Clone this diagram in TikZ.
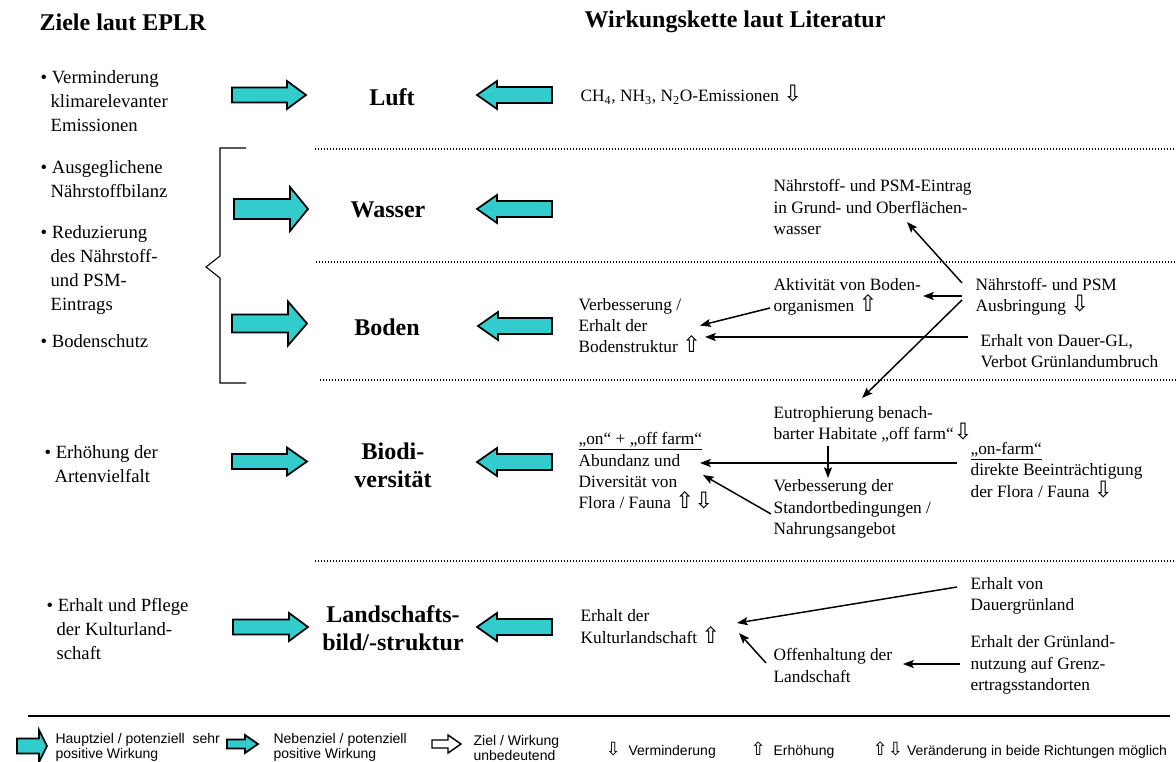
\documentclass[tikz,border=0pt]{standalone}
\usepackage{fontspec}
\setmainfont{Liberation Serif}
\newfontfamily\legendfont{Liberation Sans}
\newfontfamily\arrowfont{DejaVu Sans}
\usetikzlibrary{arrows.meta, calc, positioning}
\definecolor{eplrteal}{HTML}{33CCCC}
\newcommand{\arrdown}{\scalebox{1.3}{\arrowfont ⇩}}
\newcommand{\arrup}{\scalebox{1.3}{\arrowfont ⇧}}
\newcommand{\goalind}{\hspace*{7.5pt}}
% tail, base of head, tip, y, half shaft, half head, style
\newcommand{\fatarrow}[7]{%
  \filldraw[#7] (#1,#4-#5) -- (#2,#4-#5) -- (#2,#4-#6) -- (#3,#4)
    -- (#2,#4+#6) -- (#2,#4+#5) -- (#1,#4+#5) -- cycle;}
\tikzset{
>={Stealth[length=8pt,width=6pt,inset=1.5pt]}, % filled arrow heads
x=0.75pt, y=-0.75pt, % pixel grid, y pointing down
every node/.style={inner sep=1pt},
title/.style={font=\bfseries\fontsize{18}{22}\selectfont, anchor=west},
goal/.style={font=\fontsize{14}{18}\selectfont, align=left, anchor=west},
medium/.style={font=\bfseries\fontsize{18}{21}\selectfont, align=center},
effect/.style={font=\fontsize{13}{16}\selectfont, align=left, anchor=west},
legend/.style={font=\legendfont\fontsize{10.5}{11.25}\selectfont, align=left, anchor=west},
conn/.style={->, line width=1.1pt},
fatmain/.style={fill=eplrteal, draw=black, line width=1.3pt},
fatnone/.style={fill=white, draw=black, line width=1.1pt},
sepline/.style={line width=1pt, dash pattern=on 1pt off 1.25pt},
}

\begin{document}
\begin{tikzpicture}
  \useasboundingbox (0,0) rectangle (1176,762);

  % headings
  \node[title] (tgoals) at (38,22) {Ziele laut EPLR};
  \node[title] (tchain) at (583,22) {Wirkungskette laut Literatur};

  % goals
  \node[goal] (gluft) at (39,101) {\textbullet\ Verminderung\\\goalind klimarelevanter\\\goalind Emissionen};
  \node[goal] (gbilanz) at (39,179.5) {\textbullet\ Ausgeglichene\\\goalind Nährstoffbilanz};
  \node[goal] (geintrag) at (39,270.5) {\textbullet\ Reduzierung\\\goalind des Nährstoff-\\\goalind und PSM-\\\goalind Eintrags};
  \node[goal] (gboden) at (39,341) {\textbullet\ Bodenschutz};
  \node[goal] (garten) at (43,464) {\textbullet\ Erhöhung der\\\goalind Artenvielfalt};
  \node[goal] (gkultur) at (45,629) {\textbullet\ Erhalt und Pflege\\\goalind der Kulturland-\\\goalind schaft};

  \draw[line width=0.8pt] (246,148) -- (220,148) -- (220,256) -- (206,267)
    -- (220,278) -- (220,383) -- (246,383);

  % media
  \node[medium] (mluft) at (392,97) {Luft};
  \node[medium] (mwasser) at (388,210) {Wasser};
  \node[medium] (mboden) at (387,327) {Boden};
  \node[medium] (mbio) at (393,465) {Biodi-\\versität};
  \node[medium] (mland) at (393,628) {Landschafts-\\bild/-struktur};

  \fatarrow{232}{287}{306}{95}{7.5}{14}{fatmain}
  \fatarrow{234}{290}{308}{209}{10}{22}{fatmain}
  \fatarrow{232}{288}{307}{323.5}{9}{22}{fatmain}
  \fatarrow{232}{287}{307}{461.5}{7.5}{14}{fatmain}
  \fatarrow{233}{289}{308}{627}{7.5}{14}{fatmain}

  \fatarrow{552}{497}{477}{95}{8}{14}{fatmain}
  \fatarrow{552}{497}{477}{209}{8}{14}{fatmain}
  \fatarrow{552}{498}{478}{326}{8}{14}{fatmain}
  \fatarrow{552}{497}{477}{462}{8}{14}{fatmain}
  \fatarrow{552}{497}{477}{627}{8}{14}{fatmain}

  \draw[sepline] (315,149) -- (1176,149);
  \draw[sepline] (316,262) -- (1176,262);
  \draw[sepline] (320,380) -- (1176,380);
  \draw[sepline] (315,561) -- (1176,561);

  % effect chain
  \node[effect] (emis) at (579,95) {CH\textsubscript{4}, NH\textsubscript{3}, N\textsubscript{2}O-Emissionen \arrdown};
  \node[effect] (eintrag) at (772,207) {Nährstoff- und PSM-Eintrag\\in Grund- und Oberflächen-\\wasser};
  \node[effect] (aktiv) at (772,297) {Aktivität von Boden-\\organismen \arrup};
  \node[effect] (ausbr) at (974,297) {Nährstoff- und PSM\\Ausbringung \arrdown};
  \node[effect] (struktur) at (577,325.5) {Verbesserung /\\Erhalt der\\Bodenstruktur \arrup};
  \node[effect] (dauergl) at (979,351) {Erhalt von Dauer-GL,\\Verbot Grünlandumbruch};
  \node[effect] (eutro) at (772,424.5) {Eutrophierung benach-\\barter Habitate „off farm“\arrdown};
  \node[effect] (abund) at (577,471) {\underline{„on“ + „off farm“}\\Abundanz und\\Diversität von\\Flora / Fauna \arrup\arrdown};
  \node[effect] (onfarm) at (969,470) {\underline{„on-farm“}\\direkte Beeinträchtigung\\der Flora / Fauna \arrdown};
  \node[effect] (standort) at (772,509) {Verbesserung der\\Standortbedingungen /\\Nahrungsangebot};
  \node[effect] (dauergruen) at (969,596) {Erhalt von\\Dauergrünland};
  \node[effect] (kultur) at (579,626.5) {Erhalt der\\Kulturlandschaft \arrup};
  \node[effect] (grenz) at (969,665) {Erhalt der Grünland-\\nutzung auf Grenz-\\ertragsstandorten};
  \node[effect] (offen) at (772,665.5) {Offenhaltung der\\Landschaft};

  \path[conn]
  ($(ausbr.west)+(-12,-14)$) edge ($(eintrag.west)+(135,15)$)
  ($(ausbr.west)+(-12,-1)$) edge ($(aktiv.west)+(151,-1)$)
  ($(ausbr.west)+(-12,3)$) edge ($(eutro.west)+(90,-26.5)$)
  ($(aktiv.west)+(-2,11)$) edge ($(struktur.west)+(123,0)$)
  ($(dauergl.west)+(-11,-14)$) edge ($(struktur.west)+(128,11.5)$)
  ($(eutro.west)+(56,21.5)$) edge ($(standort.west)+(56,-31)$)
  ($(onfarm.west)+(-12,-7)$) edge ($(abund.west)+(123,-8)$)
  ($(standort.west)+(-1,5)$) edge ($(abund.west)+(126,4)$)
  ($(dauergruen.west)+(-12,-9)$) edge ($(kultur.west)+(158,-3.5)$)
  ($(offen.west)+(-6,-2.5)$) edge ($(kultur.west)+(160,6.5)$)
  ($(grenz.west)+(-9,-1)$) edge ($(offen.west)+(131,-1.5)$);

  % legend
  \draw[line width=1.2pt] (28,716) -- (1170,716);
  \fatarrow{17}{39}{47}{746}{7.5}{16}{fatmain}
  \fatarrow{227}{245}{258}{744}{4.5}{9}{fatmain}
  \fatarrow{432}{448}{461}{744}{4}{9}{fatnone}
  \node[legend] (lhaupt) at (54,747.5) {Hauptziel / potenziell\ \ sehr\\positive Wirkung};
  \node[legend] (lneben) at (272,747.5) {Nebenziel / potenziell\\positive Wirkung};
  \node[legend] (lnull) at (472,747.5) {Ziel / Wirkung\\unbedeutend};
  \node[legend] (lminus) at (604,750) {\arrdown\ \ Verminderung};
  \node[legend] (lplus) at (749,750) {\arrup\ \ Erhöhung};
  \node[legend] (lboth) at (871,750) {\arrup\arrdown\ Veränderung in beide Richtungen möglich};
\end{tikzpicture}
\end{document}
